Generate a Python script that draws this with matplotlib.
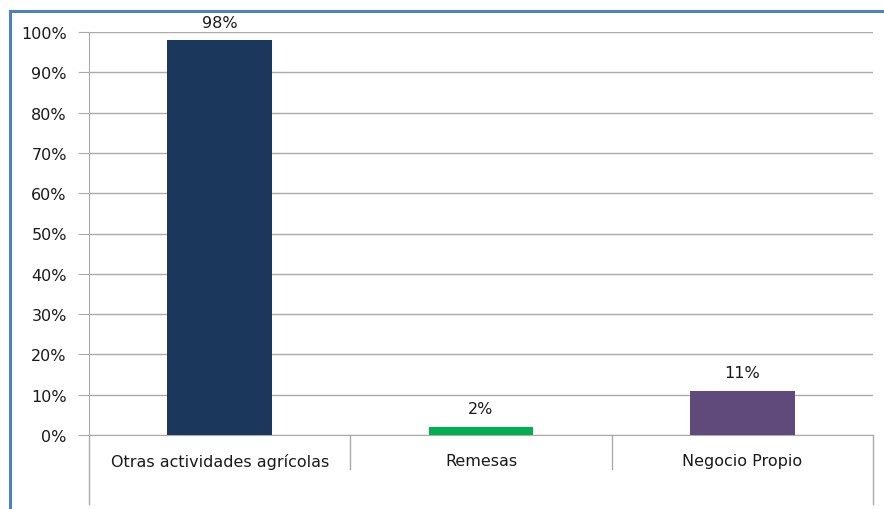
import numpy as np
import matplotlib
matplotlib.use('Agg')
import matplotlib.pyplot as plt
from matplotlib.lines import Line2D

# data
categories = ["Otras actividades agrícolas", "Remesas", "Negocio Propio"]
values = [98, 2, 11]
labels = ["98%", "2%", "11%"]
colors = ["#1B375C", "#00B050", "#604A7B"]
yticks = list(range(0, 101, 10))

plt.rcParams['font.family'] = ['DejaVu Sans']
FS = 11.5
TXT = '#1A1A1A'

W, H = 884, 510
fig = plt.figure(figsize=(W / 100, H / 100), dpi=100)
ax = fig.add_axes([89 / W, 1 - 436 / H, (873 - 89) / W, (436 - 33) / H])

x = np.arange(len(categories))
ax.bar(x, values, width=0.4, color=colors, zorder=3)
for xi, v, lab in zip(x, values, labels):
    ax.text(xi, v + 2.6, lab, ha='center', va='bottom', fontsize=FS, color=TXT)

ax.set_xlim(-0.5, len(categories) - 0.5)
ax.set_ylim(0, 100)
ax.set_yticks(yticks)
ax.set_yticklabels([f"{t}%" for t in yticks], fontsize=FS, color=TXT)
ax.yaxis.grid(True, color='#ABABAB', linewidth=1, zorder=0)
ax.tick_params(axis='y', length=8, color='#ABABAB', pad=8)
ax.set_xticks([])

for s in ['top', 'right']:
    ax.spines[s].set_visible(False)
ax.spines['left'].set_color('#ABABAB')
ax.spines['bottom'].set_color('#ABABAB')

# category labels and separators below the axis
trans = ax.get_xaxis_transform()
for xi, cat in zip(x, categories):
    ax.text(xi, -0.064, cat, transform=trans, ha='center', va='center',
            fontsize=FS, color=TXT)
bounds = np.arange(len(categories) + 1) - 0.5
for i, b in enumerate(bounds):
    inner = 0 < i < len(bounds) - 1
    ax.add_line(Line2D([b, b], [0, -0.085 if inner else -0.17],
                       transform=trans, color='#ABABAB', linewidth=1, clip_on=False))

# outer blue frame (left and top edges visible)
fig.add_artist(Line2D([10 / W, 10 / W], [0, 1 - 12 / H], color='#4F81BD', linewidth=2.2))
fig.add_artist(Line2D([10 / W, 1], [1 - 12 / H, 1 - 12 / H], color='#4F81BD', linewidth=2.2))

fig.savefig('out.png', dpi=100)
